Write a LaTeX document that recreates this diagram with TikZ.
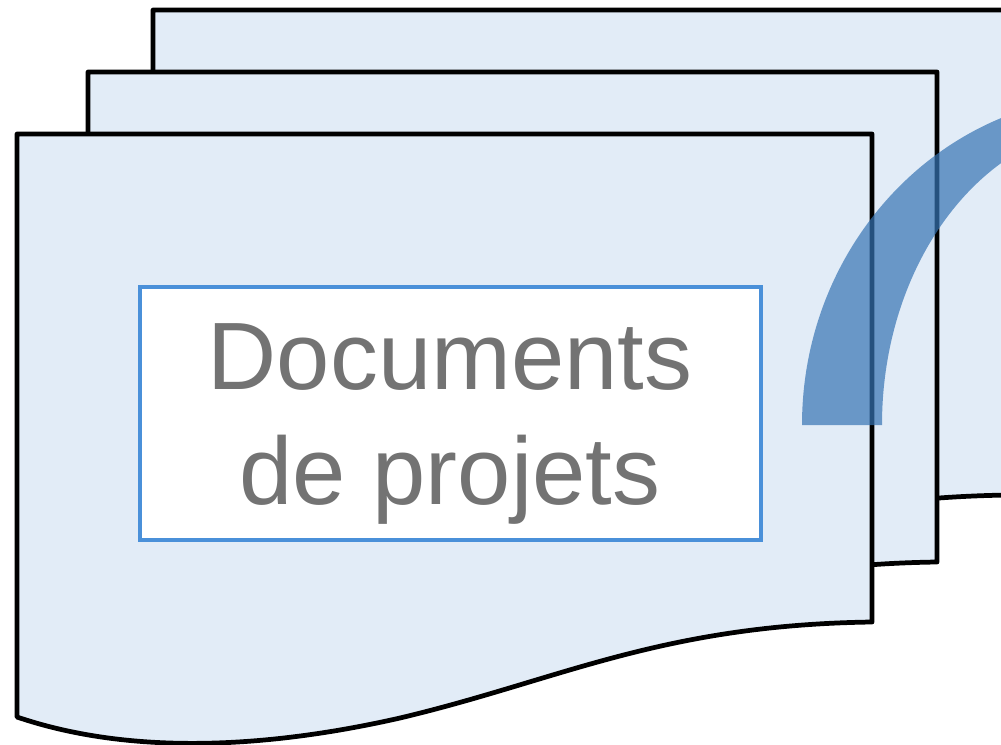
\documentclass[tikz,border=0pt]{standalone}
\usepackage{fontspec}
\setmainfont{Liberation Sans}
\usepackage{tikz}

\definecolor{pagefill}{RGB}{226,236,247}
\definecolor{arcblue}{RGB}{54,116,180}
\definecolor{boxblue}{RGB}{74,144,217}
\definecolor{labelgray}{RGB}{115,115,115}

\begin{document}
\begin{tikzpicture}[x=0.02cm, y=-0.02cm,
  page/.style={draw=black, fill=pagefill, line width=2.7pt, line join=round},
  labelbox/.style={draw=boxblue, fill=white, line width=2pt, minimum width=12.42cm, minimum height=5.06cm, inner sep=0pt},
  labeltext/.style={text=labelgray, align=center, inner sep=0pt, font=\fontsize{54.5}{65.5}\selectfont}]
\useasboundingbox (0,0) rectangle (1001,744);
\clip (0,0) rectangle (1001,744);
\path [page] (153,591) -- (153,10) -- (1010,10) -- (1010,495) .. controls (790,498) and (690,554) .. (530,592) .. controls (380,626) and (250,626) .. cycle;
\path [page] (88,656) -- (88,72) -- (937,72) -- (937,562) .. controls (725,565) and (625,620) .. (465,658) .. controls (315,692) and (185,692) .. cycle;
\path [page] (17,717) -- (17,134) -- (872,134) -- (872,622) .. controls (660,625) and (560,680) .. (400,718) .. controls (250,752) and (120,752) .. cycle;
\node [labelbox] (box) at (450.5,413.5) {};
\node [labeltext] (label) at (450,424) {Documents\\de projets};
\fill [arcblue, opacity=0.7] (802,425) arc [start angle=180, end angle=270, x radius=315, y radius=330] -- (1117,124) arc [start angle=270, end angle=180, x radius=235, y radius=301] -- cycle;
\end{tikzpicture}
\end{document}
